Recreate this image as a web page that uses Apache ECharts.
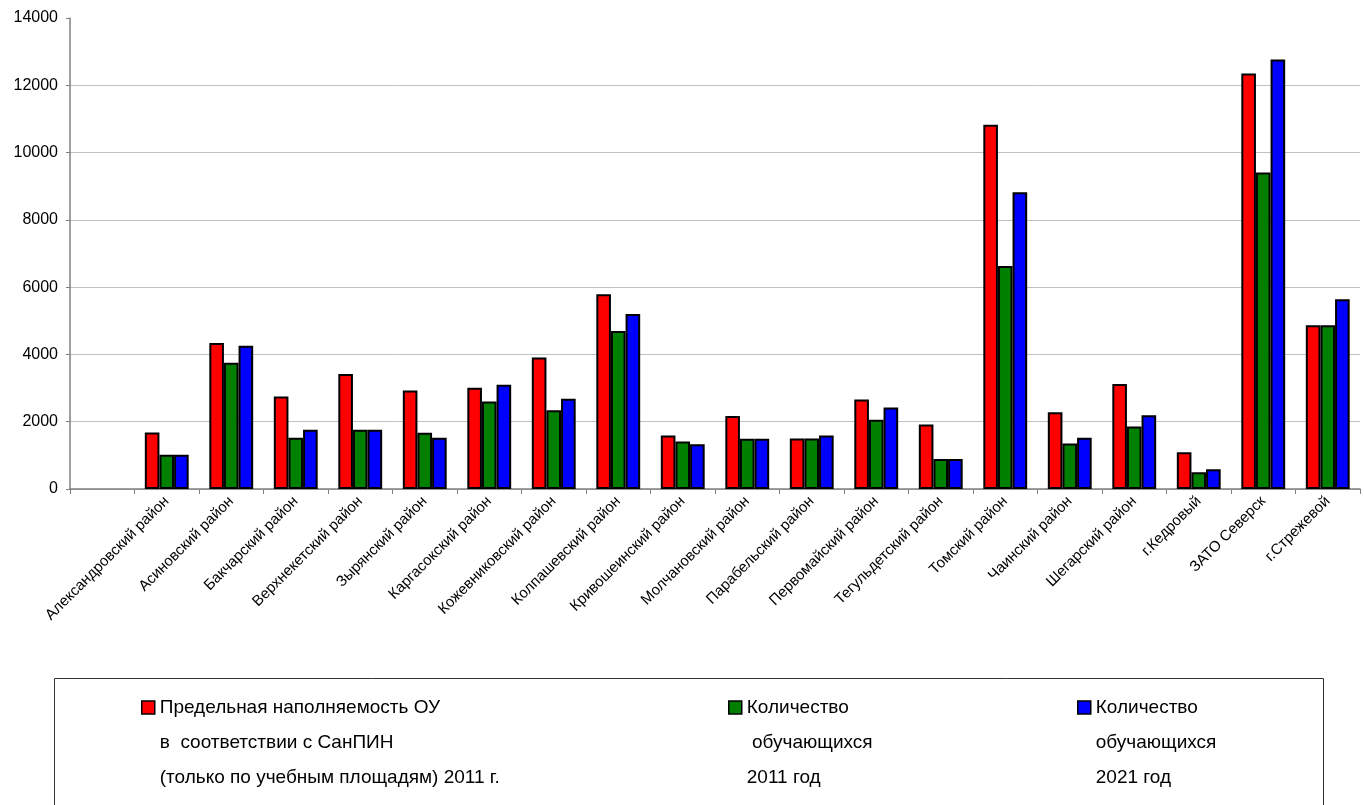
<!DOCTYPE html>
<html>
<head>
<meta charset="utf-8">
<script src="https://cdn.jsdelivr.net/npm/echarts@6/dist/echarts.min.js"></script>
<style>
html,body{margin:0;padding:0;background:#fff;}
#chart{width:1364px;height:805px;}
</style>
</head>
<body>
<div id="chart"></div>
<script>
const categories = ['', 'Александровский район', 'Асиновский район', 'Бакчарский район', 'Верхнекетский район',
  'Зырянский район', 'Каргасокский район', 'Кожевниковский район', 'Колпашевский район', 'Кривошеинский район',
  'Молчановский район', 'Парабельский район', 'Первомайский район', 'Тегульдетский район', 'Томский район',
  'Чаинский район', 'Шегарский район', 'г.Кедровый', 'ЗАТО Северск', 'г.Стрежевой'];
const capacity2011 = [null, 1680, 4340, 2750, 3420, 2930, 3010, 3910, 5790, 1590, 2170, 1500, 2660, 1920, 10830, 2280, 3120, 1090, 12350, 4870];
const students2011 = [null, 1020, 3750, 1520, 1760, 1670, 2600, 2340, 4700, 1410, 1490, 1500, 2060, 890, 6630, 1350, 1860, 500, 9410, 4870];
const students2021 = [null, 1020, 4260, 1760, 1760, 1520, 3100, 2680, 5200, 1330, 1490, 1590, 2420, 890, 8820, 1520, 2190, 590, 12770, 5640];
const yTicks = [0, 2000, 4000, 6000, 8000, 10000, 12000, 14000];
const seriesNames = [
  'Предельная наполняемость ОУ\nв  соответствии с СанПИН\n(только по учебным площадям) 2011 г.',
  'Количество\n обучающихся\n2011 год',
  'Количество\nобучающихся\n2021 год'
];

const chart = echarts.init(document.getElementById('chart'));
const textFont = 'Liberation Sans, Arial, sans-serif';
function mkLegend(name, left) {
  return {
    data: [name], left: left, top: 615, orient: 'vertical',
    itemWidth: 13, itemHeight: 13, selectedMode: false,
    icon: 'rect',
    formatter: function (n) { return '\n\n' + n; },
    textStyle: { fontFamily: textFont, fontSize: 19, color: '#000', lineHeight: 35 },
    itemStyle: { borderColor: '#000', borderWidth: 1.5 }
  };
}
chart.setOption({
  animation: false,
  backgroundColor: '#fff',
  grid: { left: 70, right: 4, top: 18, bottom: 316, containLabel: false },
  xAxis: {
    type: 'category', data: categories,
    axisLine: { lineStyle: { color: '#808080', width: 1.5 } },
    axisTick: { show: true, length: 5, lineStyle: { color: '#808080' } },
    axisLabel: {
      interval: 0, rotate: 45, margin: 10,
      fontFamily: textFont, fontSize: 15, color: '#000'
    }
  },
  yAxis: {
    type: 'value', min: yTicks[0], max: yTicks[yTicks.length - 1], interval: yTicks[1] - yTicks[0],
    axisLine: { show: true, lineStyle: { color: '#808080', width: 1.5 } },
    axisTick: { show: true, length: 4, lineStyle: { color: '#808080' } },
    axisLabel: { fontFamily: textFont, fontSize: 16, color: '#000', margin: 12,
      formatter: function (v) { return String(v); } },
    splitLine: { show: true, showMaxLine: false, lineStyle: { color: '#c0c0c0', width: 1 } }
  },
  legend: [mkLegend(seriesNames[0], 136), mkLegend(seriesNames[1], 723), mkLegend(seriesNames[2], 1072)],
  graphic: [{
    type: 'rect', left: 52, top: 676, silent: true,
    shape: { x: 0, y: 0, width: 1269, height: 200 },
    style: { fill: 'none', stroke: '#333', lineWidth: 1 }
  }],
  series: [
    { name: seriesNames[0], type: 'bar', data: capacity2011, barGap: '0%', barCategoryGap: '32%',
      itemStyle: { color: '#ff0000', borderColor: '#000', borderWidth: 2 } },
    { name: seriesNames[1], type: 'bar', data: students2011,
      itemStyle: { color: '#008000', borderColor: '#000', borderWidth: 2 } },
    { name: seriesNames[2], type: 'bar', data: students2021,
      itemStyle: { color: '#0000ff', borderColor: '#000', borderWidth: 2 } }
  ]
});
</script>
</body>
</html>
